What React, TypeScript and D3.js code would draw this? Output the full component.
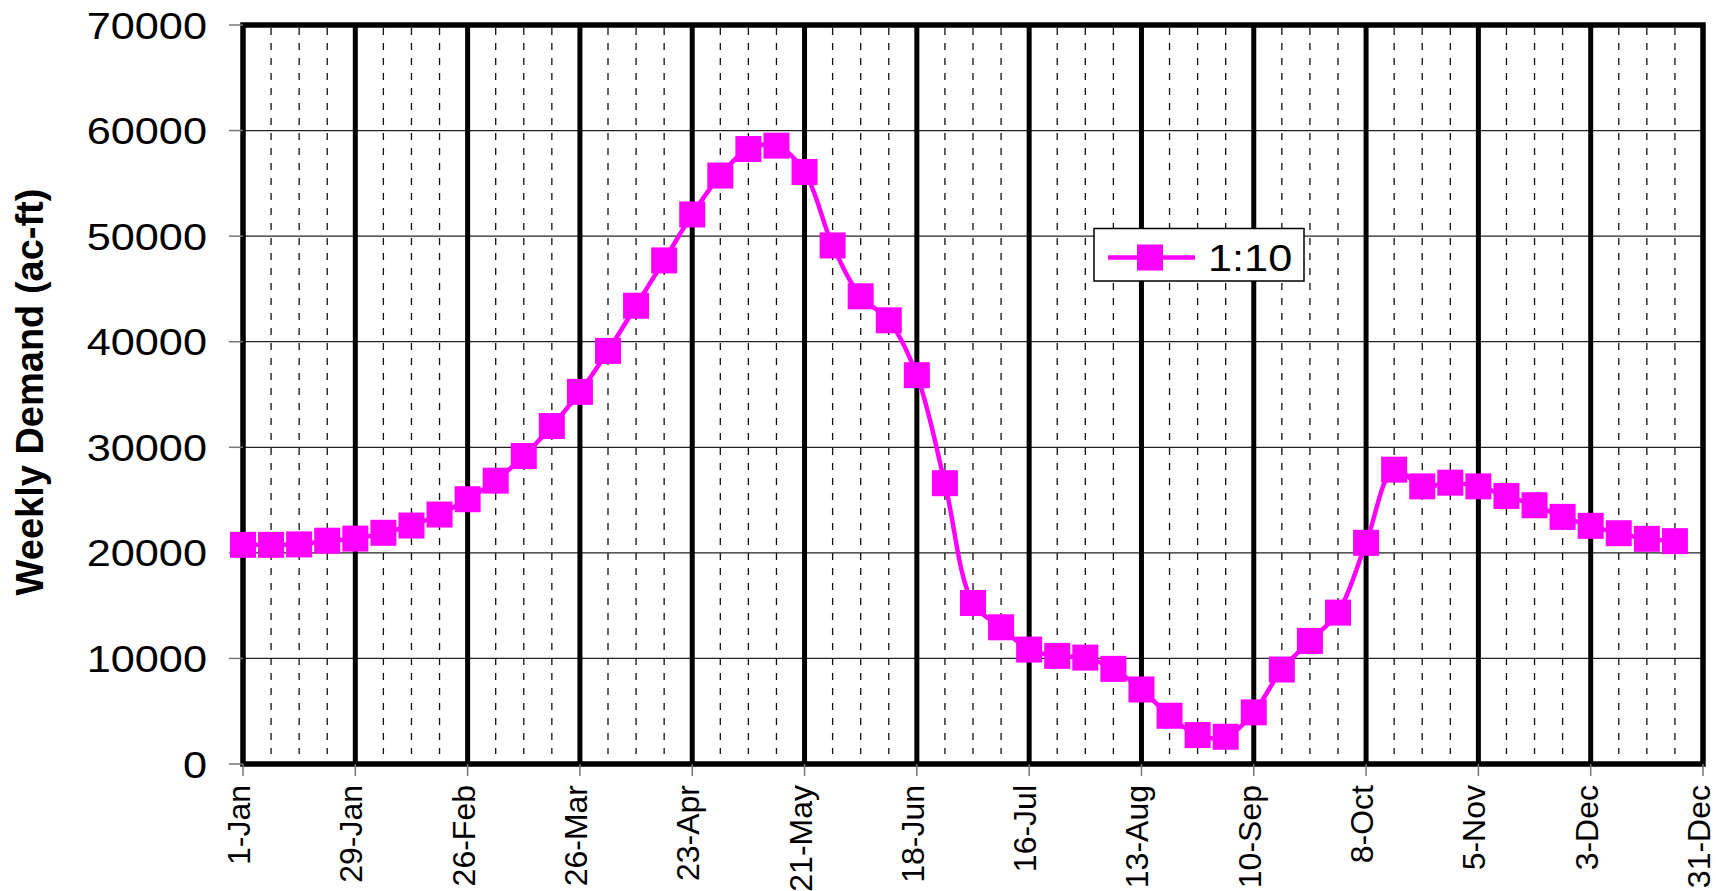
import { useRef, useEffect } from "react";
import * as d3 from "d3";

// weekly points
const weeks = [
  "1-Jan", "8-Jan", "15-Jan", "22-Jan", "29-Jan", "5-Feb", "12-Feb", "19-Feb", "26-Feb",
  "5-Mar", "12-Mar", "19-Mar", "26-Mar", "2-Apr", "9-Apr", "16-Apr", "23-Apr", "30-Apr",
  "7-May", "14-May", "21-May", "28-May", "4-Jun", "11-Jun", "18-Jun", "25-Jun",
  "2-Jul", "9-Jul", "16-Jul", "23-Jul", "30-Jul", "6-Aug", "13-Aug", "20-Aug", "27-Aug",
  "3-Sep", "10-Sep", "17-Sep", "24-Sep", "1-Oct", "8-Oct", "15-Oct", "22-Oct", "29-Oct",
  "5-Nov", "12-Nov", "19-Nov", "26-Nov", "3-Dec", "10-Dec", "17-Dec", "24-Dec",
];
const demand = [
  20760, 20760, 20800, 21150, 21350, 21900, 22590, 23630, 25080,
  26840, 29170, 32010, 35250, 39130, 43410, 47700, 52050, 55740,
  58250, 58570, 56080, 49120, 44300, 42030, 36830, 26600,
  15250, 12950, 10840, 10240, 10080, 9010, 7060, 4570, 2740,
  2580, 4890, 8950, 11660, 14340, 20950, 27880, 26300, 26650,
  26300, 25390, 24510, 23410, 22560, 21860, 21330, 21110,
];
const xTickLabels = [
  "1-Jan", "29-Jan", "26-Feb", "26-Mar", "23-Apr", "21-May", "18-Jun",
  "16-Jul", "13-Aug", "10-Sep", "8-Oct", "5-Nov", "3-Dec", "31-Dec",
];
const yTicks = [0, 10000, 20000, 30000, 40000, 50000, 60000, 70000];
const seriesName = "1:10";
const yTitle = "Weekly Demand (ac-ft)";

const parse = d3.timeParse("%d-%b-%Y");
const toDate = (s: string) => parse(s + "-2001") as Date;

export default function App() {
  const svgRef = useRef<SVGSVGElement>(null);

  useEffect(() => {
    const svg = d3.select(svgRef.current);
    svg.selectAll("*").remove();

    const left = 243, right = 1703, top = 25, bottom = 764;
    const font = "Arial, 'Liberation Sans', sans-serif";
    const magenta = "#ff00ff";

    const x = d3.scaleTime()
      .domain([toDate("1-Jan"), toDate("31-Dec")])
      .range([left, right]);
    const y = d3.scaleLinear().domain([0, 70000]).range([bottom, top]);

    const majorDates = xTickLabels.map(toDate);
    // minor lines every week, skipping the major ones
    const minorDates = weeks.map(toDate).filter(
      (d) => !majorDates.some((m) => +m === +d)
    );

    // horizontal grid
    svg.append("g")
      .selectAll("line")
      .data(yTicks.slice(1, -1))
      .join("line")
      .attr("x1", left).attr("x2", right)
      .attr("y1", (d) => y(d)).attr("y2", (d) => y(d))
      .attr("stroke", "#222").attr("stroke-width", 1.2);

    // dashed weekly lines
    svg.append("g")
      .selectAll("line")
      .data(minorDates)
      .join("line")
      .attr("x1", (d) => x(d)).attr("x2", (d) => x(d))
      .attr("y1", top + 3).attr("y2", bottom - 10)
      .attr("stroke", "#111").attr("stroke-width", 1.3)
      .attr("stroke-dasharray", "7 8");

    // heavy 4-week lines
    svg.append("g")
      .selectAll("line")
      .data(majorDates.slice(1, -1))
      .join("line")
      .attr("x1", (d) => x(d)).attr("x2", (d) => x(d))
      .attr("y1", top).attr("y2", bottom)
      .attr("stroke", "#000").attr("stroke-width", 5);

    // plot border
    svg.append("rect")
      .attr("x", left).attr("y", top)
      .attr("width", right - left).attr("height", bottom - top)
      .attr("fill", "none").attr("stroke", "#000").attr("stroke-width", 5.5);

    // y ticks + labels
    const yAxis = svg.append("g");
    yAxis.selectAll("line")
      .data(yTicks)
      .join("line")
      .attr("x1", left - 14).attr("x2", left)
      .attr("y1", (d) => y(d)).attr("y2", (d) => y(d))
      .attr("stroke", "#777").attr("stroke-width", 1.5);
    yAxis.selectAll("text")
      .data(yTicks)
      .join("text")
      .attr("transform", (d) => `translate(207,${y(d) + 13.5}) scale(1.17,1)`)
      .attr("text-anchor", "end")
      .attr("font-family", font).attr("font-size", 37)
      .text((d) => String(d));

    // x ticks + labels
    const xAxis = svg.append("g");
    xAxis.selectAll("line")
      .data(majorDates)
      .join("line")
      .attr("x1", (d) => x(d)).attr("x2", (d) => x(d))
      .attr("y1", bottom).attr("y2", bottom + 12)
      .attr("stroke", "#777").attr("stroke-width", 1.5);
    xAxis.selectAll("text")
      .data(xTickLabels)
      .join("text")
      .attr("transform", (d) => `translate(${x(toDate(d)) + 7},785) rotate(-90)`)
      .attr("text-anchor", "end")
      .attr("font-family", font).attr("font-size", 32)
      .text((d) => d);

    // y title
    svg.append("text")
      .attr("transform", "translate(43,392) rotate(-90)")
      .attr("text-anchor", "middle")
      .attr("font-family", font).attr("font-size", 38).attr("font-weight", "bold")
      .text(yTitle);

    // series
    const pts = weeks.map((w, i) => ({ date: toDate(w), value: demand[i] }));
    const line = d3.line<{ date: Date; value: number }>()
      .x((d) => x(d.date))
      .y((d) => y(d.value))
      .curve(d3.curveCatmullRom.alpha(0.5));
    svg.append("path")
      .datum(pts)
      .attr("d", line)
      .attr("fill", "none")
      .attr("stroke", magenta)
      .attr("stroke-width", 4.5);

    const m = 26;
    svg.append("g")
      .selectAll("rect")
      .data(pts)
      .join("rect")
      .attr("x", (d) => x(d.date) - m / 2)
      .attr("y", (d) => y(d.value) - m / 2)
      .attr("width", m).attr("height", m)
      .attr("fill", magenta);

    // legend
    const lg = svg.append("g");
    lg.append("rect")
      .attr("x", 1094).attr("y", 228.5)
      .attr("width", 210).attr("height", 52.5)
      .attr("fill", "#fff").attr("stroke", "#000").attr("stroke-width", 1.5);
    lg.append("line")
      .attr("x1", 1108).attr("x2", 1195)
      .attr("y1", 257.5).attr("y2", 257.5)
      .attr("stroke", magenta).attr("stroke-width", 4.5);
    lg.append("rect")
      .attr("x", 1150 - m / 2).attr("y", 257.5 - m / 2)
      .attr("width", m).attr("height", m)
      .attr("fill", magenta);
    lg.append("text")
      .attr("transform", "translate(1208,270.5) scale(1.17,1)")
      .attr("font-family", font).attr("font-size", 37)
      .text(seriesName);
  }, []);

  return (
    <svg
      ref={svgRef}
      width={1716}
      height={891}
      style={{ position: "absolute", left: 0, top: 0, background: "#fff" }}
    />
  );
}
